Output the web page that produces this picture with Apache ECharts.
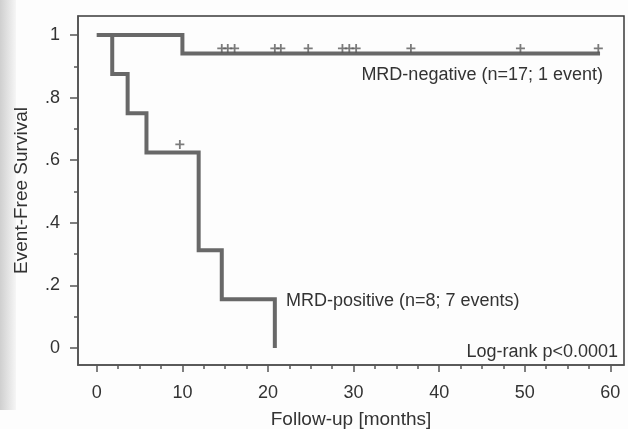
<!DOCTYPE html>
<html>
<head>
<meta charset="utf-8">
<script src="https://cdn.jsdelivr.net/npm/echarts@6/dist/echarts.min.js"></script>
<style>
  html, body { margin: 0; padding: 0; background: #fdfdfd; }
  #chart { width: 628px; height: 429px; }
</style>
</head>
<body>
<div id="chart"></div>
<script>
// axis ticks
const xTicks = [0, 10, 20, 30, 40, 50, 60]
const xMinorTicks = [2.5, 5, 7.5, 12.5, 15, 17.5, 22.5, 25, 27.5, 32.5, 35, 37.5, 42.5, 45, 47.5, 52.5, 55, 57.5]
const yTicks = [0, 0.2, 0.4, 0.6, 0.8, 1]
const yTickLabels = ["0", ".2", ".4", ".6", ".8", "1"]
const yMinorTicks = [0.1, 0.3, 0.5, 0.7, 0.9]

// Kaplan-Meier steps (months, survival)
const negTimes = [0, 10, 58.8]
const negSurv = [1, 0.941, 0.941]
const posTimes = [0, 1.8, 3.6, 5.8, 11.9, 14.6, 20.8]
const posSurv = [1, 0.875, 0.75, 0.625, 0.3125, 0.156, 0]

// censored observations
const negCensorTimes = [14.6, 15.3, 16.1, 20.8, 21.5, 24.7, 28.7, 29.5, 30.3, 36.7, 49.5, 58.6]
const negCensorSurv = [0.941, 0.941, 0.941, 0.941, 0.941, 0.941, 0.941, 0.941, 0.941, 0.941, 0.941, 0.941]
const posCensorTimes = [9.7]
const posCensorSurv = [0.625]

const lineColor = "#686868"
const textColor = "#333"
const axisColor = "#555"
const plus = "path://M4,0H6V4H10V6H6V10H4V6H0V4H4Z"

const zip = (a, b) => a.map((v, i) => [v, b[i]])

const chart = echarts.init(document.getElementById("chart"), null, { renderer: "canvas" })

const baseX = { type: "value", position: "bottom", min: -2.2, max: 61.6, splitLine: { show: false } }
const baseY = { type: "value", position: "left", min: -0.0543, max: 1.0607, splitLine: { show: false } }

const option = {
  animation: false,
  backgroundColor: "#fdfdfd",
  textStyle: { fontFamily: "Liberation Sans, Arial, sans-serif" },
  grid: {
    left: 78, top: 16, width: 546, height: 349,
    containLabel: false, outerBoundsMode: "none",
    show: true, borderColor: "#3a3a3a", borderWidth: 1.5, backgroundColor: "transparent"
  },
  graphic: [
    {
      type: "rect", left: 0, top: 0, z: -10,
      shape: { width: 16, height: 410 },
      style: {
        fill: {
          type: "linear", x: 0, y: 0, x2: 1, y2: 0,
          colorStops: [{ offset: 0, color: "#cfcfcf" }, { offset: 1, color: "#f6f6f6" }]
        }
      }
    },
    {
      type: "text", right: 25, top: 66,
      style: { text: "MRD-negative (n=17; 1 event)", fill: textColor, font: "18px Liberation Sans" }
    },
    {
      type: "text", left: 286, top: 292,
      style: { text: "MRD-positive (n=8; 7 events)", fill: textColor, font: "18px Liberation Sans" }
    },
    {
      type: "text", right: 10, top: 343,
      style: { text: "Log-rank p<0.0001", fill: textColor, font: "18px Liberation Sans" }
    }
  ],
  xAxis: [
    {
      ...baseX,
      name: "Follow-up [months]",
      nameLocation: "middle",
      nameGap: 45,
      nameTextStyle: { fontSize: 19, color: textColor },
      axisLine: { show: true, onZero: false, lineStyle: { color: axisColor, width: 1.5 } },
      axisTick: { show: true, inside: false, length: 7, customValues: xTicks, lineStyle: { color: axisColor, width: 1.5 } },
      axisLabel: { show: true, customValues: xTicks, margin: 19, fontSize: 18, color: textColor }
    },
    {
      ...baseX,
      axisLine: { show: false, onZero: false },
      axisTick: { show: true, inside: false, length: 4, customValues: xMinorTicks, lineStyle: { color: axisColor, width: 1.5 } },
      axisLabel: { show: false }
    }
  ],
  yAxis: [
    {
      ...baseY,
      name: "Event-Free Survival",
      nameLocation: "middle",
      nameGap: 47,
      nameTextStyle: { fontSize: 19, color: textColor },
      axisLine: { show: true, onZero: false, lineStyle: { color: axisColor, width: 1.5 } },
      axisTick: { show: true, inside: false, length: 8, customValues: yTicks, lineStyle: { color: axisColor, width: 1.5 } },
      axisLabel: {
        show: true, customValues: yTicks, margin: 18, fontSize: 18, color: textColor,
        formatter: (v) => yTickLabels[yTicks.findIndex((t) => Math.abs(t - v) < 1e-6)]
      }
    },
    {
      ...baseY,
      axisLine: { show: false, onZero: false },
      axisTick: { show: true, inside: false, length: 4, customValues: yMinorTicks, lineStyle: { color: axisColor, width: 1.5 } },
      axisLabel: { show: false }
    }
  ],
  series: [
    {
      name: "MRD-negative",
      type: "line",
      step: "end",
      data: zip(negTimes, negSurv),
      showSymbol: false,
      lineStyle: { color: lineColor, width: 4, join: "miter" }
    },
    {
      name: "MRD-positive",
      type: "line",
      step: "end",
      data: zip(posTimes, posSurv),
      showSymbol: false,
      lineStyle: { color: lineColor, width: 4, join: "miter" }
    },
    {
      name: "MRD-negative censored",
      type: "scatter",
      data: zip(negCensorTimes, negCensorSurv),
      symbol: plus,
      symbolSize: 9,
      symbolOffset: [0, -5],
      itemStyle: { color: "#5a5a5a" },
      z: 3
    },
    {
      name: "MRD-positive censored",
      type: "scatter",
      data: zip(posCensorTimes, posCensorSurv),
      symbol: plus,
      symbolSize: 9,
      symbolOffset: [0, -8],
      itemStyle: { color: "#5a5a5a" },
      z: 3
    }
  ]
}

chart.setOption(option)
</script>
</body>
</html>
